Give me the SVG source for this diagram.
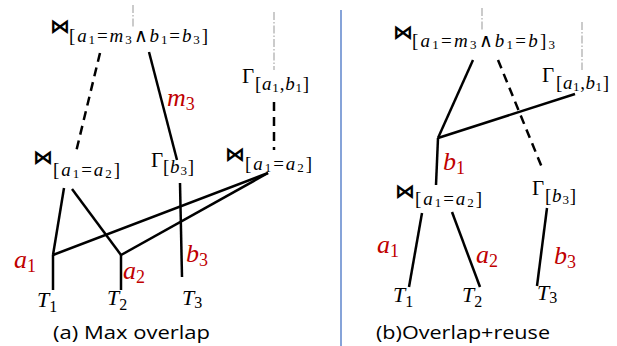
<svg xmlns="http://www.w3.org/2000/svg" width="617" height="346" viewBox="0 0 617 346">
<style>
.bg{fill:#fff}
.e{stroke:#000;stroke-width:2.5;fill:none;stroke-linecap:butt}
.d{stroke-dasharray:9 6}
.g{stroke:#b0b0b0;stroke-width:1.3;fill:none;stroke-dasharray:8 2 1.5 2}
.div{stroke:#4472c4;stroke-width:1.3}
.bt{font-family:"DejaVu Sans",sans-serif;font-size:20px;font-weight:bold;fill:#000}
.G{font-family:"Liberation Serif",serif;font-size:21px;fill:#000}
.s{font-family:"Liberation Serif",serif;font-size:19px;fill:#000}
.i{font-style:italic}
.n{font-size:13px}
.T{font-family:"Liberation Serif",serif;font-style:italic;font-size:22px;fill:#000}
.tn{font-style:normal;font-size:16px}
.r{font-family:"Liberation Serif",serif;font-style:italic;font-size:26px;fill:#c00000}
.rn{font-style:normal;font-size:18px}
.cap{font-family:"Open Sans","Liberation Sans",sans-serif;font-size:19px;fill:#000}
</style>
<rect class="bg" x="0" y="0" width="617" height="346"/>
<line class="div" x1="341" y1="10" x2="341" y2="346"/>
<g id="connectors">
<line class="g" x1="133" y1="5" x2="133" y2="28"/>
<line class="g" x1="274" y1="12" x2="274" y2="70"/>
<line class="e d" x1="100" y1="53" x2="76" y2="152"/>
<line class="e" x1="149" y1="52" x2="177" y2="160"/>
<line class="e d" x1="274" y1="102" x2="274" y2="150"/>
<line class="e" x1="64" y1="188" x2="53" y2="255"/>
<line class="e" x1="72" y1="189" x2="121" y2="255"/>
<line class="e" x1="53" y1="255" x2="53" y2="290"/>
<line class="e" x1="121" y1="255" x2="121" y2="290"/>
<line class="e" x1="268" y1="173" x2="53" y2="255"/>
<line class="e" x1="268" y1="173" x2="121" y2="255"/>
<line class="e" x1="180" y1="183" x2="182" y2="277"/>
<line class="g" x1="482" y1="8" x2="482" y2="30"/>
<line class="g" x1="582" y1="22" x2="582" y2="70"/>
<line class="e" x1="473" y1="60" x2="438" y2="138"/>
<line class="e" x1="438" y1="138" x2="575" y2="94"/>
<line class="e" x1="438" y1="138" x2="436" y2="185"/>
<line class="e d" x1="498" y1="60" x2="543" y2="170"/>
<line class="e" x1="422" y1="213" x2="409" y2="287"/>
<line class="e" x1="452" y1="212" x2="480" y2="287"/>
<line class="e" x1="547" y1="208" x2="537" y2="286"/>
</g>
<g id="edge-labels">
<text class="r" x="167" y="106">m<tspan class="rn" dy="4">3</tspan></text>
<text class="r" x="14" y="268">a<tspan class="rn" dy="4">1</tspan></text>
<text class="r" x="123" y="279">a<tspan class="rn" dy="4">2</tspan></text>
<text class="r" x="186" y="262">b<tspan class="rn" dy="4">3</tspan></text>
<text class="r" x="443" y="170">b<tspan class="rn" dy="4">1</tspan></text>
<text class="r" x="377" y="253">a<tspan class="rn" dy="4">1</tspan></text>
<text class="r" x="476" y="263">a<tspan class="rn" dy="4">2</tspan></text>
<text class="r" x="554" y="264">b<tspan class="rn" dy="4">3</tspan></text>
</g>
<g id="a-join-top">
<text class="bt" x="50" y="33">⋈</text>
<text class="s" x="69" y="42" textLength="139" lengthAdjust="spacing">[<tspan class="i">a</tspan><tspan class="n" dy="2">1</tspan><tspan dy="-2">=</tspan><tspan class="i">m</tspan><tspan class="n" dy="2">3</tspan><tspan dy="-2">∧</tspan><tspan class="i">b</tspan><tspan class="n" dy="2">1</tspan><tspan dy="-2">=</tspan><tspan class="i">b</tspan><tspan class="n" dy="2">3</tspan><tspan dy="-2">]</tspan></text>
</g>
<g id="a-gamma-a1b1">
<text class="G" x="242" y="83">Γ</text>
<text class="s" x="255" y="90" textLength="54" lengthAdjust="spacing">[<tspan class="i">a</tspan><tspan class="n" dy="2">1</tspan><tspan dy="-2">,</tspan><tspan class="i">b</tspan><tspan class="n" dy="2">1</tspan><tspan dy="-2">]</tspan></text>
</g>
<g id="a-join-left">
<text class="bt" x="33" y="164">⋈</text>
<text class="s" x="53" y="176" textLength="67" lengthAdjust="spacing">[<tspan class="i">a</tspan><tspan class="n" dy="2">1</tspan><tspan dy="-2">=</tspan><tspan class="i">a</tspan><tspan class="n" dy="2">2</tspan><tspan dy="-2">]</tspan></text>
</g>
<g id="a-gamma-b3">
<text class="G" x="151" y="167">Γ</text>
<text class="s" x="163" y="173" textLength="31" lengthAdjust="spacing">[<tspan class="i">b</tspan><tspan class="n" dy="2">3</tspan><tspan dy="-2">]</tspan></text>
</g>
<g id="a-join-right">
<text class="bt" x="225" y="161">⋈</text>
<text class="s" x="245" y="170" textLength="67" lengthAdjust="spacing">[<tspan class="i">a</tspan><tspan class="n" dy="2">1</tspan><tspan dy="-2">=</tspan><tspan class="i">a</tspan><tspan class="n" dy="2">2</tspan><tspan dy="-2">]</tspan></text>
</g>
<g id="a-T1"><text class="T" x="37" y="307">T<tspan class="tn" dy="5">1</tspan></text></g>
<g id="a-T2"><text class="T" x="107" y="305">T<tspan class="tn" dy="5">2</tspan></text></g>
<g id="a-T3"><text class="T" x="182" y="305">T<tspan class="tn" dy="3">3</tspan></text></g>
<text class="cap" x="53" y="339" textLength="157" lengthAdjust="spacingAndGlyphs">(a) Max overlap</text>
<g id="b-join-top">
<text class="bt" x="393" y="39">⋈</text>
<text class="s" x="412" y="47" textLength="143" lengthAdjust="spacing">[<tspan class="i">a</tspan><tspan class="n" dy="2">1</tspan><tspan dy="-2">=</tspan><tspan class="i">m</tspan><tspan class="n" dy="2">3</tspan><tspan dy="-2">∧</tspan><tspan class="i">b</tspan><tspan class="n" dy="2">1</tspan><tspan dy="-2">=</tspan><tspan class="i">b</tspan>]<tspan class="n" dy="2">3</tspan></text>
</g>
<g id="b-gamma-a1b1">
<text class="G" x="542" y="82">Γ</text>
<text class="s" x="556" y="89" textLength="53" lengthAdjust="spacing">[<tspan class="i">a</tspan><tspan class="n" dy="2">1</tspan><tspan dy="-2">,</tspan><tspan class="i">b</tspan><tspan class="n" dy="2">1</tspan><tspan dy="-2">]</tspan></text>
</g>
<g id="b-join-mid">
<text class="bt" x="395" y="198">⋈</text>
<text class="s" x="415" y="205" textLength="67" lengthAdjust="spacing">[<tspan class="i">a</tspan><tspan class="n" dy="2">1</tspan><tspan dy="-2">=</tspan><tspan class="i">a</tspan><tspan class="n" dy="2">2</tspan><tspan dy="-2">]</tspan></text>
</g>
<g id="b-gamma-b3">
<text class="G" x="532" y="195">Γ</text>
<text class="s" x="545" y="202" textLength="31" lengthAdjust="spacing">[<tspan class="i">b</tspan><tspan class="n" dy="2">3</tspan><tspan dy="-2">]</tspan></text>
</g>
<g id="b-T1"><text class="T" x="393" y="302">T<tspan class="tn" dy="5">1</tspan></text></g>
<g id="b-T2"><text class="T" x="462" y="302">T<tspan class="tn" dy="5">2</tspan></text></g>
<g id="b-T3"><text class="T" x="537" y="300">T<tspan class="tn" dy="3">3</tspan></text></g>
<text class="cap" x="376" y="339" textLength="174" lengthAdjust="spacingAndGlyphs">(b)Overlap+reuse</text>
</svg>
